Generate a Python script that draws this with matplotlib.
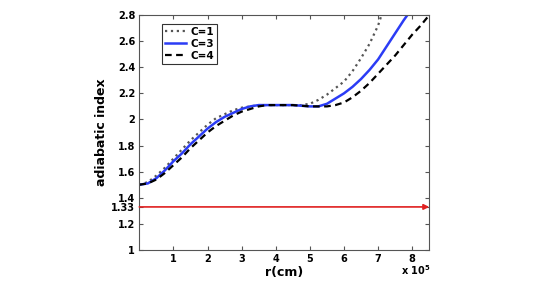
import numpy as np
import matplotlib
matplotlib.use("Agg")
import matplotlib.pyplot as plt

# r in units of 1e5 cm
r1 = [0, 0.25, 0.5, 0.75, 1.0, 1.25, 1.5, 1.75, 2.0, 2.25, 2.5, 2.75, 3.0, 3.25, 3.5,
      4.0, 4.5, 4.75, 5.0, 5.25, 5.5, 5.75, 6.0, 6.25, 6.5, 6.75, 7.0, 7.1, 7.25]
g1 = [1.50, 1.52, 1.57, 1.63, 1.70, 1.77, 1.84, 1.90, 1.96, 2.01, 2.04, 2.07, 2.09, 2.10, 2.11,
      2.11, 2.11, 2.11, 2.12, 2.15, 2.19, 2.24, 2.29, 2.37, 2.47, 2.58, 2.72, 2.80, 2.88]

r3 = [0, 0.25, 0.5, 0.75, 1.0, 1.25, 1.5, 1.75, 2.0, 2.25, 2.5, 2.75, 3.0, 3.25, 3.5,
      3.75, 4.0, 4.5, 5.0, 5.25, 5.5, 5.75, 6.0, 6.25, 6.5, 6.75, 7.0, 7.25, 7.5, 7.75, 7.86, 8.0]
g3 = [1.50, 1.51, 1.55, 1.61, 1.68, 1.74, 1.81, 1.87, 1.93, 1.98, 2.02, 2.05, 2.08, 2.10, 2.11,
      2.11, 2.11, 2.11, 2.10, 2.10, 2.12, 2.16, 2.20, 2.25, 2.31, 2.38, 2.46, 2.56, 2.66, 2.76, 2.80, 2.86]

r4 = [0, 0.25, 0.5, 0.75, 1.0, 1.25, 1.5, 1.75, 2.0, 2.25, 2.5, 2.75, 3.0, 3.25, 3.5,
      3.75, 4.0, 4.5, 5.0, 5.5, 5.75, 6.0, 6.25, 6.5, 6.75, 7.0, 7.25, 7.5, 7.75, 8.0, 8.25, 8.5]
g4 = [1.50, 1.51, 1.54, 1.59, 1.65, 1.71, 1.78, 1.84, 1.90, 1.95, 1.99, 2.03, 2.06, 2.08, 2.10,
      2.11, 2.11, 2.11, 2.10, 2.10, 2.11, 2.13, 2.17, 2.22, 2.28, 2.35, 2.42, 2.49, 2.57, 2.65, 2.72, 2.80]

gamma_rel = 1.33
xticks = [1, 2, 3, 4, 5, 6, 7, 8]
yticks = [1, 1.2, 1.33, 1.4, 1.6, 1.8, 2, 2.2, 2.4, 2.6, 2.8]
ylabels = ['1', '1.2', '1.33', '1.4', '1.6', '1.8', '2', '2.2', '2.4', '2.6', '2.8']

plt.rcParams['font.family'] = 'DejaVu Sans'
plt.rcParams['font.weight'] = 'bold'

fig = plt.figure(figsize=(5.45, 2.81), dpi=100)
ax = fig.add_axes([0.2556, 0.1103, 0.5321, 0.8363])

ax.plot(r1, g1, color='#555555', ls=':', lw=1.6, label='C=1')
ax.plot(r3, g3, color='#2b3cf5', ls='-', lw=1.8, label='C=3')
ax.plot(r4, g4, color='black', ls='--', lw=1.6, dashes=(3, 2), label='C=4')

ax.annotate('', xy=(8.5, gamma_rel), xytext=(0, gamma_rel),
            arrowprops=dict(arrowstyle='-|>', color='#e02020', lw=1.2,
                            mutation_scale=8, shrinkA=0, shrinkB=0))

ax.set_xlim(0, 8.5)
ax.set_ylim(1, 2.8)
ax.set_xticks(xticks)
ax.set_yticks(yticks)
ax.set_yticklabels(ylabels)
ax.tick_params(direction='in', top=True, right=True, labelsize=7, length=3,
               color='#555555', pad=3)
for s in ax.spines.values():
    s.set_color('#555555')
    s.set_linewidth(0.8)

ax.set_xlabel('r(cm)', fontsize=9, fontweight='bold', labelpad=1)
ax.set_ylabel('adiabatic index', fontsize=9, fontweight='bold', labelpad=2)
fig.text(0.79, 0.015, r'x 10$^5$', ha='right', va='bottom',
         fontsize=7, fontweight='bold')

leg = ax.legend(loc='upper left', bbox_to_anchor=(0.06, 0.985), fontsize=7.5,
                frameon=True, fancybox=False, edgecolor='black', handlelength=2.0,
                borderpad=0.3, labelspacing=0.2, handletextpad=0.4)
leg.get_frame().set_linewidth(0.8)

fig.savefig('out.png', dpi=100)
